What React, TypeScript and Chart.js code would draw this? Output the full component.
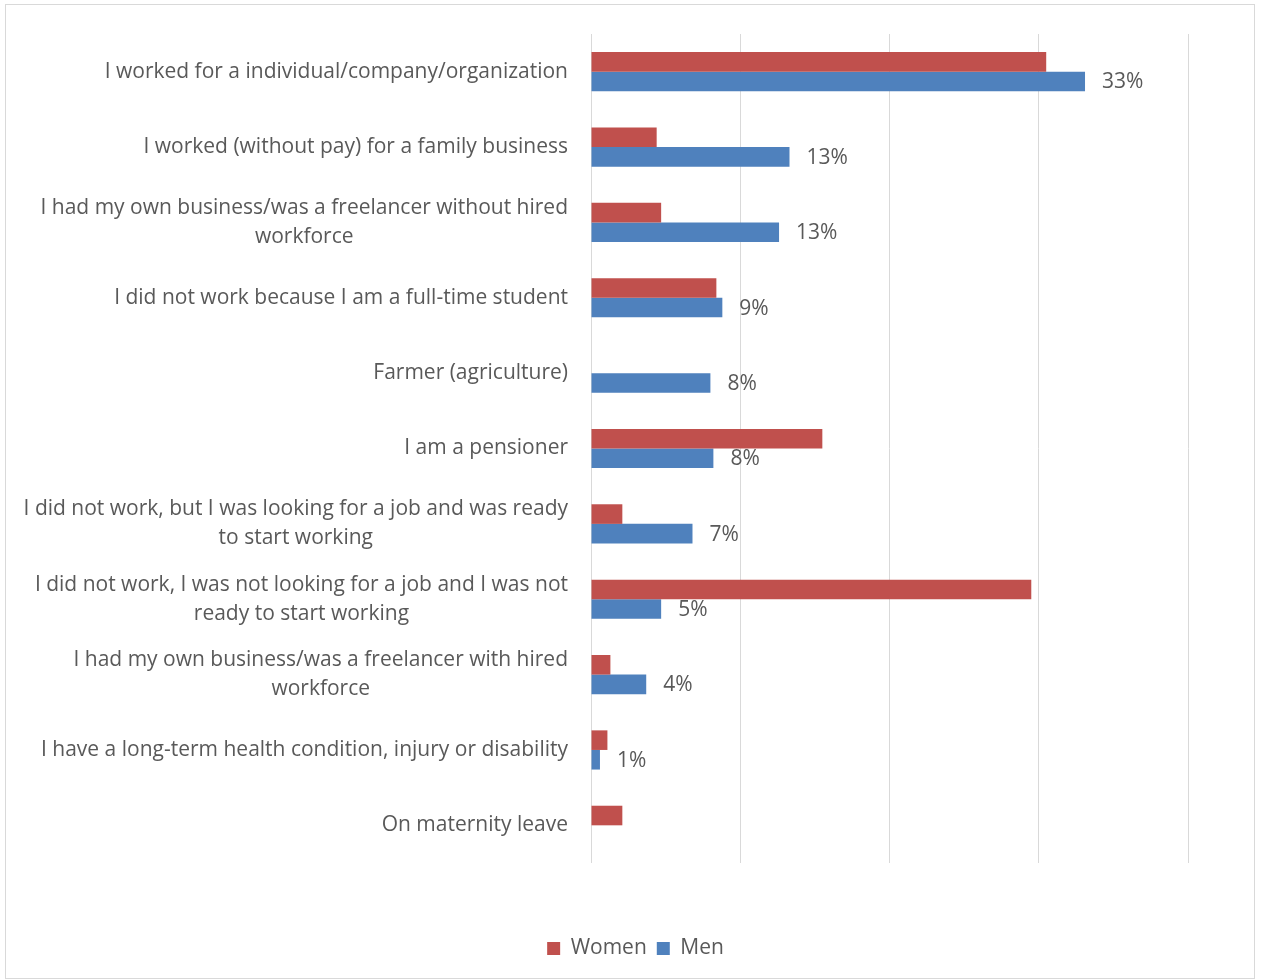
import React, { useEffect, useRef } from "react";
import { Chart, registerables } from "chart.js";

Chart.register(...registerables);

const categories: string[][] = [
  ["I worked for a individual/company/organization"],
  ["I worked (without pay) for a family business"],
  ["I had my own business/was a freelancer without hired", "workforce"],
  ["I did not work because I am a full-time student"],
  ["Farmer (agriculture)"],
  ["I am a pensioner"],
  ["I did not work, but I was looking for a job and was ready", "to start working"],
  ["I did not work, I was not looking for a job and I was not", "ready to start working"],
  ["I had my own business/was a freelancer with hired", "workforce"],
  ["I have a long-term health condition, injury or disability"],
  ["On maternity leave"],
];

const women: number[] = [30.5, 4.4, 4.7, 8.4, 0, 15.5, 2.1, 29.5, 1.3, 1.1, 2.1];
const men: number[] = [33.1, 13.3, 12.6, 8.8, 8.0, 8.2, 6.8, 4.7, 3.7, 0.6, 0];

const seriesNames = ["Women", "Men"];
const xTicks: number[] = [0, 10, 20, 30, 40];

const TEXT = "#595959";
const GRID = "#d9d9d9";
const FONT = '"Open Sans", sans-serif';
const FONT_SIZE = 21;

const labelPlugin = {
  id: "customLabels",
  afterDraw(chart: any) {
    const ctx = chart.ctx;
    const yScale = chart.scales.y;
    ctx.save();
    ctx.font = `${FONT_SIZE}px ${FONT}`;
    ctx.fillStyle = TEXT;
    ctx.textBaseline = "middle";
    const rightEdge = chart.chartArea.left - 23;
    const lh = 29;
    categories.forEach((lines, i) => {
      const cy = yScale.getPixelForValue(i);
      const widths = lines.map((l) => ctx.measureText(l).width);
      const maxW = Math.max(...widths);
      const cx = rightEdge - maxW / 2;
      ctx.textAlign = "center";
      lines.forEach((l, j) => {
        const y = cy + (j - (lines.length - 1) / 2) * lh;
        ctx.fillText(l, cx, y);
      });
    });
    // data labels for Men
    const meta = chart.getDatasetMeta(1);
    ctx.textAlign = "left";
    meta.data.forEach((bar: any, i: number) => {
      const v = men[i];
      if (!v) return;
      ctx.fillText(`${Math.round(v)}%`, bar.x + 17, bar.y + 1);
    });
    ctx.restore();
  },
};

export default function App() {
  const ref = useRef<HTMLCanvasElement | null>(null);
  useEffect(() => {
    document.body.style.margin = "0";
    const canvas = ref.current!;
    const chart = new Chart(canvas, {
      type: "bar",
      data: {
        labels: categories,
        datasets: [
          {
            label: seriesNames[0],
            data: women,
            backgroundColor: "#C0504D",
            borderWidth: 0,
            categoryPercentage: 0.52,
            barPercentage: 1,
          },
          {
            label: seriesNames[1],
            data: men,
            backgroundColor: "#4F81BD",
            borderWidth: 0,
            categoryPercentage: 0.52,
            barPercentage: 1,
          },
        ],
      },
      options: {
        indexAxis: "y",
        animation: false,
        responsive: false,
        maintainAspectRatio: false,
        layout: { padding: { left: 10, right: 0, top: 34, bottom: 11 } },
        scales: {
          x: {
            min: xTicks[0],
            max: xTicks[xTicks.length - 1],
            afterBuildTicks: (s: any) => {
              s.ticks = xTicks.map((v) => ({ value: v }));
            },
            ticks: { display: false },
            grid: { color: GRID, lineWidth: 1, drawTicks: false },
            border: { display: false },
            afterFit: (s: any) => {
              s.height = 65;
            },
          },
          y: {
            ticks: { display: false },
            grid: { display: false, drawTicks: false },
            border: { display: false },
            afterFit: (s: any) => {
              s.width = 581;
            },
          },
          yRight: {
            type: "linear",
            axis: "y",
            position: "right",
            display: true,
            ticks: { display: false },
            grid: { display: false, drawTicks: false },
            border: { display: false },
            afterFit: (s: any) => {
              s.width = 73;
            },
          },
        },
        plugins: {
          legend: {
            position: "bottom",
            labels: {
              boxWidth: 13,
              boxHeight: 13,
              padding: 10,
              color: TEXT,
              font: { family: FONT, size: FONT_SIZE },
            },
          },
          tooltip: { enabled: false },
        },
      } as any,
      plugins: [labelPlugin],
    });
    return () => chart.destroy();
  }, []);

  return (
    <div style={{ position: "relative", width: 1261, height: 980, background: "#fff" }}>
      <div
        style={{
          position: "absolute",
          left: 5,
          top: 4,
          width: 1250,
          height: 975,
          border: `1px solid ${GRID}`,
          boxSizing: "border-box",
        }}
      />
      <canvas ref={ref} width={1261} height={980} style={{ position: "absolute", left: 0, top: 0 }} />
    </div>
  );
}
